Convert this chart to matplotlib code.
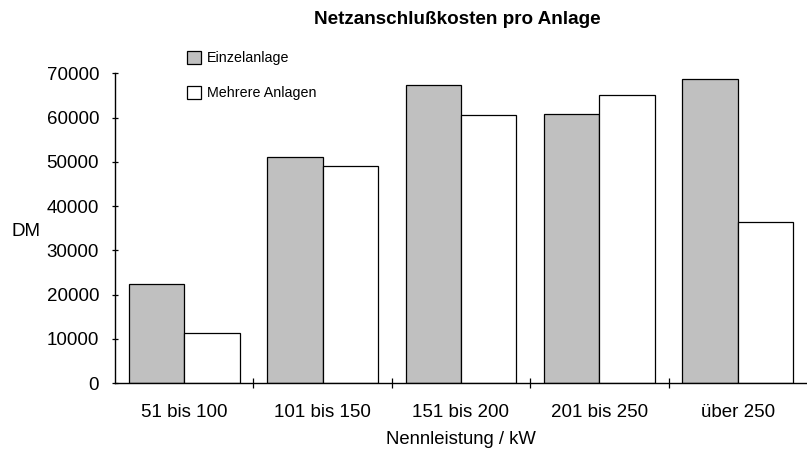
import numpy as np
import matplotlib
matplotlib.use("Agg")
import matplotlib.pyplot as plt
from matplotlib.patches import Patch

plt.rcParams['font.family'] = ['Liberation Sans', 'DejaVu Sans']

# data
categories = ["51 bis 100", "101 bis 150", "151 bis 200", "201 bis 250", "über 250"]
einzelanlage = [22300, 51100, 67400, 60700, 68600]
mehrere_anlagen = [11300, 49000, 60500, 65100, 36300]
series_names = ["Einzelanlage", "Mehrere Anlagen"]
yticks = [0, 10000, 20000, 30000, 40000, 50000, 60000, 70000]

W, H = 807, 455
fig = plt.figure(figsize=(W / 100, H / 100), dpi=100)
ax = fig.add_axes([115 / W, 1 - 383 / H, 1 - 115 / W, (383 - 73.3) / H])

x = np.arange(len(categories))
bw = 0.4
ax.bar(x - bw / 2, einzelanlage, bw, color='#c0c0c0', edgecolor='black', linewidth=0.9)
ax.bar(x + bw / 2, mehrere_anlagen, bw, color='white', edgecolor='black', linewidth=0.9)

ax.set_xlim(-0.5, len(categories) - 0.5)
ax.set_ylim(0, 70000)
ax.set_yticks(yticks)
ax.set_yticklabels([str(v) for v in yticks])

ax.set_xticks(x)
ax.set_xticklabels(categories)
ax.set_xticks(x[:-1] + 0.5, minor=True)
ax.tick_params(axis='x', which='major', length=0, pad=15, labelsize=13.5)
ax.tick_params(axis='x', which='minor', direction='inout', length=7, width=0.9)
ax.tick_params(axis='y', direction='inout', length=5, width=0.9, pad=9, labelsize=13.5)

for s in ['top', 'right']:
    ax.spines[s].set_visible(False)
for s in ['left', 'bottom']:
    ax.spines[s].set_linewidth(1.0)

ax.set_xlabel("Nennleistung / kW", fontsize=13.3, labelpad=7)
ax.set_ylabel("DM", fontsize=13.5, rotation=0, ha='center', va='center')
ax.yaxis.set_label_coords((26 - 115) / 692, (383 - 232) / 309.7)

fig.text(457 / W, 1 - 20 / H, "Netzanschlußkosten pro Anlage", fontsize=13.6,
         fontweight='bold', ha='center', va='center')

handles = [Patch(facecolor='#c0c0c0', edgecolor='black', linewidth=0.9),
           Patch(facecolor='white', edgecolor='black', linewidth=0.9)]
fig.legend(handles, series_names, loc='upper left', bbox_to_anchor=(187 / W, 1 - 51 / H),
           frameon=False, fontsize=10.3, handlelength=1.0, handleheight=1.0,
           handletextpad=0.4, labelspacing=1.45, borderpad=0, borderaxespad=0)

fig.savefig("out.png", dpi=100)
